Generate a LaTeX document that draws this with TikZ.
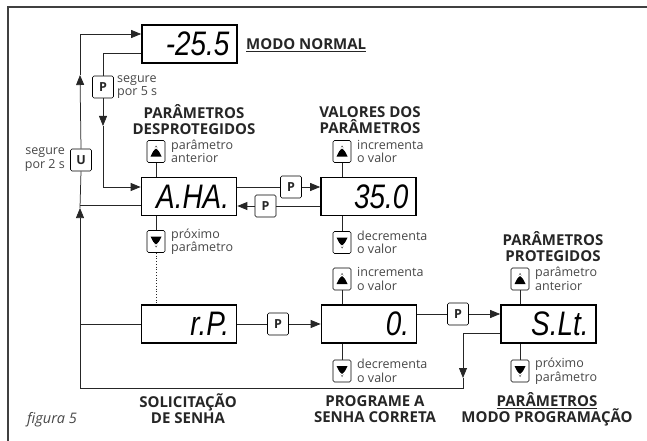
\documentclass[tikz,border=0pt]{standalone}
\usepackage{fontspec}
\setmainfont{Open Sans}
\newfontfamily\dispfont[FakeStretch=0.82]{Liberation Sans}
\usetikzlibrary{arrows.meta}
\begin{document}
\begin{tikzpicture}[x=1pt,y=-1pt,
 disp/.style={draw, line width=1.7pt, minimum width=95pt, minimum height=38pt, inner sep=0pt, text width=80pt, align=right, font=\dispfont\itshape\fontsize{34}{34}\selectfont},
 key/.style={draw, rounded corners=1.5pt, line width=0.6pt, fill=white, minimum width=21pt, minimum height=22pt, inner sep=0pt, font=\bfseries\fontsize{12.5}{12.5}\selectfont, text=black!85},
 arbtn/.style={draw, rounded corners=1.5pt, line width=0.6pt, fill=white, minimum width=18pt, minimum height=22pt, inner sep=0pt},
 lbl/.style={font=\fontsize{12.5}{13.5}\selectfont, align=left, anchor=west, inner sep=0pt, text=black!72},
 lblr/.style={font=\fontsize{12.5}{13.5}\selectfont, align=right, anchor=east, inner sep=0pt, text=black!72},
 head/.style={font=\bfseries\fontsize{15}{16}\selectfont, align=center, inner sep=0pt, text=black!85},
 conn/.style={line width=0.75pt, black!85},
 tip/.style={-{Triangle[length=10pt,width=8pt]}},
 uparr/.pic={\fill (-5.5,5) -- (5.5,5) -- (0,-6) -- cycle; \draw[white, line width=1.2pt] (-6,1.5) -- (0,-4) -- (6,1.5);},
 dnarr/.pic={\fill (-5.5,-5) -- (5.5,-5) -- (0,6) -- cycle; \draw[white, line width=1.2pt] (-6,-1.5) -- (0,4) -- (6,-1.5);}
]
\useasboundingbox (0,0) rectangle (647,441);
% frame
\draw[line width=1.3pt, black!75] (647,7) -- (8,7) -- (8,441);

% displays
\node[disp] (d0) at (189.5,44) {\mbox{-25.5}};
\node[disp] (dA) at (189,196.5) {A.HA.};
\node[disp] (dV) at (368.5,196.5) {35.0};
\node[disp] (dR) at (189,324) {r.P.};
\node[disp] (dZ) at (369,324) {0.};
\node[disp] (dS) at (548.5,324) {S.Lt.};

% keys
\node[key] (kU) at (81,160) {U};
\node[key] (kP5) at (103,87) {P};
\node[key] (kAV) at (291,187) {P};
\node[key] (kVA) at (265.5,206) {P};
\node[key] (kRZ) at (278,324) {P};
\node[key] (kZS) at (458,314) {P};

% arrow buttons
\node[arbtn] (uA) at (156,151.5) {}; \path (uA.center) pic {uparr};
\node[arbtn] (nA) at (156,241.5) {}; \path (nA.center) pic {dnarr};
\node[arbtn] (uV) at (342,151.5) {}; \path (uV.center) pic {uparr};
\node[arbtn] (nV) at (342,242.5) {}; \path (nV.center) pic {dnarr};
\node[arbtn] (uZ) at (342,279) {}; \path (uZ.center) pic {uparr};
\node[arbtn] (nZ) at (342,371) {}; \path (nZ.center) pic {dnarr};
\node[arbtn] (uS) at (520,279) {}; \path (uS.center) pic {uparr};
\node[arbtn] (nS) at (520,371) {}; \path (nS.center) pic {dnarr};

% coordinates
\coordinate (r1) at (463,333);
\coordinate (rm) at (463,378);
\coordinate (r2) at (463,388);
\coordinate (l1) at (80,388);
\coordinate (lu1) at (80,208);
\coordinate (lu2) at (80,75);
\coordinate (l2) at (80,34);
\coordinate (lA) at (80,205);
\coordinate (lR) at (80,324);
\coordinate (p1) at (103,53);
\coordinate (pm) at (103,126);
\coordinate (p2) at (103,187);

% outer loop
\draw[conn,tip] (dS.west|-r1) -- (r1) -- (rm);
\draw[conn,tip] (rm) -- (r2) -- (l1) -- (lu1);
\draw[conn] (lu1) -- (kU.south);
\draw[conn,tip] (kU.north) -- (lu2);
\draw[conn,tip] (lu2) -- (l2) -- (d0.west|-l2);
\draw[conn] (dA.west|-lA) -- (lA);
\draw[conn] (dR.west|-lR) -- (lR);

% P loop
\draw[conn] (d0.west|-p1) -- (p1) -- (kP5.north);
\draw[conn,tip] (kP5.south) -- (pm);
\draw[conn,tip] (pm) -- (p2) -- (dA.west|-p2);

% between displays
\draw[conn] (dA.east|-kAV) -- (kAV.west);
\draw[conn,tip] (kAV.east) -- (dV.west|-kAV);
\draw[conn] (dV.west|-kVA) -- (kVA.east);
\draw[conn,tip] (kVA.west) -- (dA.east|-kVA);
\draw[conn] (dR.east) -- (kRZ.west);
\draw[conn,tip] (kRZ.east) -- (dZ.west);
\draw[conn] (dZ.east|-kZS) -- (kZS.west);
\draw[conn,tip] (kZS.east) -- (dS.west|-kZS);

% button stems
\draw[conn] (uA.south) -- (uA.south|-dA.north);
\draw[conn] (nA.north) -- (nA.north|-dA.south);
\draw[conn, dotted, line width=0.9pt] (nA.south) -- (nA.south|-dR.north);
\draw[conn] (uV.south) -- (uV.south|-dV.north);
\draw[conn] (nV.north) -- (nV.north|-dV.south);
\draw[conn] (uZ.south) -- (uZ.south|-dZ.north);
\draw[conn] (nZ.north) -- (nZ.north|-dZ.south);
\draw[conn] (uS.south) -- (uS.south|-dS.north);
\draw[conn] (nS.north) -- (nS.north|-dS.south);

% labels
\node[lbl] (tA1) at (171,151.5) {parâmetro\\anterior};
\node[lbl] (tA2) at (171,241.5) {próximo\\parâmetro};
\node[lbl] (tV1) at (357,151.5) {incrementa\\o valor};
\node[lbl] (tV2) at (357,242.5) {decrementa\\o valor};
\node[lbl] (tZ1) at (357,279) {incrementa\\o valor};
\node[lbl] (tZ2) at (357,371) {decrementa\\o valor};
\node[lbl] (tS1) at (535,279) {parâmetro\\anterior};
\node[lbl] (tS2) at (535,371) {próximo\\parâmetro};
\node[lbl] (t5) at (117,87) {segure\\por 5 s};
\node[lblr] (t2) at (65,159.5) {segure\\por 2 s};

% headings
\node[head, anchor=west] (hN) at (246,45) {\underline{MODO NORMAL}};
\node[head] (hA) at (194,120) {PARÂMETROS\\DESPROTEGIDOS};
\node[head] (hV) at (370,120) {VALORES DOS\\PARÂMETROS};
\node[head] (hS) at (553,247) {PARÂMETROS\\PROTEGIDOS};
\node[head] (hR) at (188,409) {SOLICITAÇÃO\\DE SENHA};
\node[head] (hZ) at (375,409) {PROGRAME A\\SENHA CORRETA};
\node[head] (hP) at (547,409) {\underline{PARÂMETROS}\\MODO PROGRAMAÇÃO};
\node[lbl, font=\itshape\fontsize{14.5}{15}\selectfont] (fig) at (27,420) {figura 5};
\end{tikzpicture}
\end{document}
